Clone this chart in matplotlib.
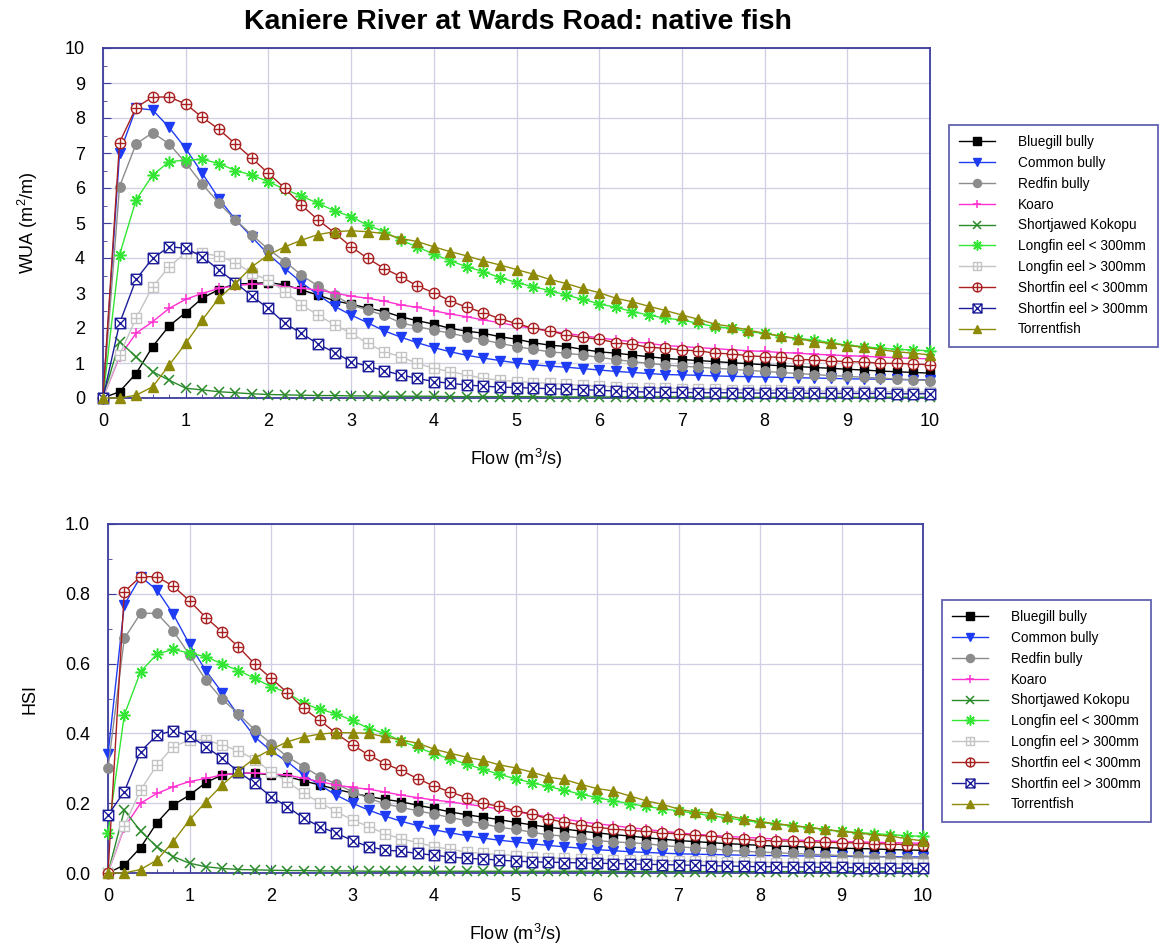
import numpy as np
import matplotlib
matplotlib.use("Agg")
import matplotlib.pyplot as plt
from matplotlib.path import Path
from matplotlib.ticker import MultipleLocator

plt.rcParams["font.family"] = ["Liberation Sans", "DejaVu Sans"]
plt.rcParams["mathtext.fontset"] = "custom"
plt.rcParams["mathtext.rm"] = "Liberation Sans"

# ---------------- data ----------------
flow = [0.0, 0.2, 0.4, 0.6, 0.8, 1.0, 1.2, 1.4, 1.6, 1.8,
        2.0, 2.2, 2.4, 2.6, 2.8, 3.0, 3.2, 3.4, 3.6, 3.8,
        4.0, 4.2, 4.4, 4.6, 4.8, 5.0, 5.2, 5.4, 5.6, 5.8,
        6.0, 6.2, 6.4, 6.6, 6.8, 7.0, 7.2, 7.4, 7.6, 7.8,
        8.0, 8.2, 8.4, 8.6, 8.8, 9.0, 9.2, 9.4, 9.6, 9.8, 10.0]

species = ["Bluegill bully", "Common bully", "Redfin bully", "Koaro",
           "Shortjawed Kokopu", "Longfin eel < 300mm", "Longfin eel > 300mm",
           "Shortfin eel < 300mm", "Shortfin eel > 300mm", "Torrentfish"]

# WUA (m2/m)
wua_bluegill = [0, 0.18, 0.7, 1.47, 2.06, 2.44, 2.85, 3.1, 3.26, 3.27, 3.3, 3.23, 3.09, 2.94, 2.78, 2.68, 2.57, 2.47,
                2.32, 2.21, 2.11, 1.99, 1.91, 1.85, 1.75, 1.68, 1.58, 1.51, 1.47, 1.39, 1.32, 1.28, 1.23, 1.18, 1.13,
                1.1, 1.07, 1.04, 1.01, 0.98, 0.95, 0.92, 0.9, 0.87, 0.85, 0.82, 0.8, 0.77, 0.75, 0.73, 0.71]
wua_common = [0, 6.99, 8.28, 8.23, 7.73, 7.13, 6.42, 5.7, 5.1, 4.6, 4.1, 3.7, 3.3, 2.95, 2.62, 2.37, 2.15, 1.92,
              1.74, 1.58, 1.44, 1.32, 1.22, 1.14, 1.07, 1.0, 0.95, 0.91, 0.88, 0.84, 0.8, 0.76, 0.73, 0.7, 0.67,
              0.66, 0.65, 0.63, 0.62, 0.61, 0.6, 0.59, 0.58, 0.57, 0.56, 0.55, 0.54, 0.54, 0.53, 0.52, 0.52]
wua_redfin = [0, 6.04, 7.26, 7.58, 7.26, 6.72, 6.11, 5.57, 5.09, 4.66, 4.25, 3.9, 3.51, 3.2, 2.94, 2.66, 2.51, 2.36,
              2.15, 2.04, 1.94, 1.85, 1.75, 1.66, 1.56, 1.47, 1.39, 1.32, 1.28, 1.23, 1.16, 1.1, 1.04, 0.99, 0.94,
              0.91, 0.88, 0.85, 0.82, 0.79, 0.76, 0.73, 0.7, 0.67, 0.64, 0.62, 0.59, 0.57, 0.54, 0.52, 0.5]
wua_koaro = [0, 1.18, 1.85, 2.18, 2.56, 2.82, 2.99, 3.13, 3.21, 3.25, 3.25, 3.18, 3.13, 3.09, 3.0, 2.91, 2.85, 2.77,
             2.66, 2.59, 2.49, 2.4, 2.32, 2.23, 2.15, 2.06, 1.99, 1.91, 1.85, 1.78, 1.72, 1.66, 1.61, 1.56, 1.5,
             1.47, 1.44, 1.41, 1.38, 1.35, 1.33, 1.3, 1.28, 1.25, 1.23, 1.21, 1.19, 1.17, 1.15, 1.13, 1.12]
wua_shortjawed = [0, 1.61, 1.18, 0.75, 0.51, 0.28, 0.23, 0.18, 0.15, 0.12, 0.1, 0.09, 0.08, 0.07, 0.07, 0.06, 0.06, 0.05,
                  0.05, 0.05, 0.05, 0.04, 0.04, 0.04, 0.04, 0.04, 0.04, 0.03, 0.03, 0.03, 0.03, 0.03, 0.03, 0.03, 0.03,
                  0.03, 0.03, 0.03, 0.02, 0.02, 0.02, 0.02, 0.02, 0.02, 0.02, 0.02, 0.02, 0.02, 0.02, 0.02, 0.02]
wua_longfin_s = [0, 4.09, 5.66, 6.37, 6.75, 6.8, 6.82, 6.7, 6.5, 6.37, 6.18, 5.96, 5.77, 5.56, 5.35, 5.18, 4.94, 4.75,
                 4.51, 4.32, 4.11, 3.92, 3.75, 3.61, 3.44, 3.3, 3.18, 3.07, 2.94, 2.82, 2.69, 2.59, 2.47, 2.37, 2.28,
                 2.23, 2.13, 2.04, 1.99, 1.89, 1.85, 1.75, 1.7, 1.66, 1.58, 1.51, 1.47, 1.42, 1.39, 1.37, 1.35]
wua_longfin_l = [0, 1.23, 2.28, 3.18, 3.75, 4.15, 4.13, 4.06, 3.87, 3.56, 3.37, 3.04, 2.66, 2.37, 2.09, 1.85, 1.56, 1.32,
                 1.18, 0.99, 0.85, 0.75, 0.66, 0.56, 0.51, 0.47, 0.44, 0.42, 0.39, 0.36, 0.34, 0.32, 0.3, 0.29, 0.28,
                 0.27, 0.26, 0.25, 0.24, 0.23, 0.22, 0.22, 0.21, 0.2, 0.2, 0.19, 0.19, 0.18, 0.18, 0.17, 0.17]
wua_shortfin_s = [0, 7.3, 8.3, 8.6, 8.6, 8.4, 8.02, 7.68, 7.26, 6.85, 6.42, 5.99, 5.51, 5.09, 4.72, 4.32, 3.99, 3.7,
                  3.47, 3.2, 3.01, 2.77, 2.59, 2.44, 2.26, 2.13, 1.99, 1.92, 1.8, 1.73, 1.68, 1.58, 1.53, 1.45, 1.42,
                  1.37, 1.35, 1.28, 1.26, 1.21, 1.18, 1.16, 1.1, 1.09, 1.06, 1.04, 1.03, 0.99, 0.99, 0.97, 0.95]
wua_shortfin_l = [0, 2.13, 3.39, 3.99, 4.32, 4.28, 4.04, 3.66, 3.3, 2.91, 2.56, 2.13, 1.85, 1.54, 1.3, 1.04, 0.91, 0.78,
                  0.66, 0.56, 0.47, 0.42, 0.37, 0.34, 0.31, 0.3, 0.28, 0.27, 0.25, 0.24, 0.22, 0.2, 0.18, 0.17, 0.16,
                  0.16, 0.15, 0.15, 0.15, 0.14, 0.14, 0.14, 0.14, 0.13, 0.13, 0.13, 0.13, 0.13, 0.12, 0.12, 0.12]
wua_torrent = [0, 0, 0.08, 0.32, 0.94, 1.56, 2.23, 2.85, 3.27, 3.75, 4.09, 4.32, 4.51, 4.67, 4.75, 4.78, 4.75, 4.7,
               4.56, 4.47, 4.32, 4.18, 4.06, 3.92, 3.8, 3.67, 3.54, 3.39, 3.27, 3.13, 3.01, 2.85, 2.75, 2.62, 2.5,
               2.37, 2.25, 2.11, 2.04, 1.94, 1.85, 1.77, 1.7, 1.61, 1.56, 1.5, 1.45, 1.38, 1.32, 1.28, 1.23]

# HSI
hsi_bluegill = [0, 0.023, 0.073, 0.144, 0.195, 0.223, 0.259, 0.281, 0.286, 0.286, 0.281, 0.276, 0.264, 0.252, 0.24, 0.229, 0.219, 0.211,
                0.204, 0.194, 0.185, 0.175, 0.167, 0.16, 0.153, 0.145, 0.138, 0.131, 0.126, 0.12, 0.115, 0.11, 0.106, 0.101, 0.097,
                0.093, 0.09, 0.087, 0.084, 0.082, 0.079, 0.077, 0.076, 0.074, 0.073, 0.071, 0.07, 0.069, 0.067, 0.066, 0.065]
hsi_common = [0.34, 0.768, 0.849, 0.811, 0.742, 0.655, 0.58, 0.517, 0.452, 0.39, 0.35, 0.319, 0.281, 0.252, 0.223, 0.2, 0.18, 0.163,
              0.148, 0.136, 0.124, 0.115, 0.107, 0.1, 0.094, 0.089, 0.084, 0.079, 0.075, 0.071, 0.067, 0.064, 0.061, 0.059, 0.057,
              0.055, 0.054, 0.053, 0.052, 0.051, 0.05, 0.05, 0.049, 0.049, 0.048, 0.048, 0.047, 0.047, 0.047, 0.046, 0.046]
hsi_redfin = [0.3, 0.672, 0.744, 0.744, 0.694, 0.625, 0.553, 0.498, 0.456, 0.41, 0.371, 0.333, 0.305, 0.276, 0.255, 0.233, 0.214, 0.198,
              0.188, 0.178, 0.169, 0.159, 0.15, 0.141, 0.131, 0.125, 0.117, 0.109, 0.106, 0.1, 0.093, 0.089, 0.087, 0.084, 0.079,
              0.075, 0.072, 0.07, 0.065, 0.062, 0.06, 0.058, 0.056, 0.054, 0.052, 0.05, 0.049, 0.047, 0.045, 0.044, 0.042]
hsi_koaro = [0, 0.13, 0.2, 0.228, 0.247, 0.262, 0.271, 0.281, 0.286, 0.286, 0.284, 0.281, 0.271, 0.262, 0.252, 0.245, 0.24, 0.232,
             0.223, 0.216, 0.209, 0.204, 0.197, 0.191, 0.183, 0.175, 0.169, 0.16, 0.155, 0.147, 0.141, 0.136, 0.13, 0.125, 0.12,
             0.115, 0.111, 0.108, 0.105, 0.102, 0.1, 0.097, 0.095, 0.093, 0.092, 0.09, 0.089, 0.088, 0.087, 0.086, 0.085]
hsi_shortjawed = [0, 0.18, 0.12, 0.075, 0.047, 0.028, 0.018, 0.013, 0.01, 0.009, 0.008, 0.007, 0.007, 0.006, 0.006, 0.006, 0.005, 0.005,
                  0.005, 0.005, 0.005, 0.005, 0.005, 0.005, 0.005, 0.005, 0.005, 0.005, 0.005, 0.005, 0.005, 0.004, 0.004, 0.004, 0.004,
                  0.004, 0.004, 0.004, 0.004, 0.004, 0.004, 0.004, 0.004, 0.004, 0.004, 0.004, 0.004, 0.004, 0.004, 0.004, 0.004]
hsi_longfin_s = [0.114, 0.453, 0.577, 0.627, 0.641, 0.63, 0.62, 0.599, 0.58, 0.558, 0.534, 0.517, 0.486, 0.469, 0.456, 0.437, 0.414, 0.4,
                 0.378, 0.36, 0.342, 0.327, 0.312, 0.297, 0.283, 0.27, 0.259, 0.248, 0.237, 0.226, 0.216, 0.207, 0.199, 0.191, 0.184,
                 0.178, 0.171, 0.164, 0.158, 0.151, 0.145, 0.14, 0.135, 0.13, 0.124, 0.119, 0.116, 0.113, 0.11, 0.107, 0.105]
hsi_longfin_l = [0, 0.135, 0.238, 0.309, 0.362, 0.381, 0.381, 0.367, 0.35, 0.325, 0.29, 0.262, 0.228, 0.202, 0.176, 0.152, 0.133, 0.112,
                 0.098, 0.087, 0.075, 0.068, 0.06, 0.056, 0.053, 0.05, 0.046, 0.044, 0.042, 0.04, 0.039, 0.038, 0.037, 0.036, 0.035,
                 0.034, 0.033, 0.033, 0.032, 0.031, 0.031, 0.03, 0.03, 0.029, 0.029, 0.028, 0.028, 0.027, 0.027, 0.026, 0.026]
hsi_shortfin_s = [0, 0.806, 0.849, 0.849, 0.822, 0.78, 0.732, 0.691, 0.648, 0.599, 0.558, 0.517, 0.472, 0.437, 0.4, 0.367, 0.338, 0.313,
                  0.294, 0.27, 0.249, 0.232, 0.216, 0.2, 0.191, 0.178, 0.169, 0.155, 0.145, 0.138, 0.131, 0.126, 0.122, 0.119, 0.115,
                  0.112, 0.108, 0.106, 0.1, 0.096, 0.093, 0.092, 0.091, 0.089, 0.088, 0.087, 0.086, 0.084, 0.083, 0.081, 0.08]
hsi_shortfin_l = [0.166, 0.233, 0.348, 0.395, 0.408, 0.393, 0.362, 0.329, 0.29, 0.257, 0.219, 0.19, 0.157, 0.133, 0.114, 0.093, 0.075, 0.066,
                  0.062, 0.056, 0.051, 0.046, 0.042, 0.04, 0.037, 0.034, 0.032, 0.031, 0.03, 0.029, 0.028, 0.027, 0.026, 0.025, 0.024,
                  0.023, 0.022, 0.021, 0.02, 0.019, 0.018, 0.018, 0.017, 0.017, 0.016, 0.016, 0.015, 0.015, 0.014, 0.014, 0.013]
hsi_torrent = [0, 0, 0.01, 0.037, 0.09, 0.152, 0.204, 0.252, 0.293, 0.329, 0.354, 0.376, 0.39, 0.398, 0.402, 0.402, 0.4, 0.39,
               0.381, 0.372, 0.355, 0.343, 0.332, 0.323, 0.31, 0.301, 0.289, 0.275, 0.268, 0.254, 0.242, 0.235, 0.221, 0.207, 0.197,
               0.183, 0.175, 0.172, 0.164, 0.155, 0.147, 0.141, 0.136, 0.131, 0.125, 0.119, 0.115, 0.109, 0.106, 0.098, 0.092]

wua = [wua_bluegill, wua_common, wua_redfin, wua_koaro, wua_shortjawed,
       wua_longfin_s, wua_longfin_l, wua_shortfin_s, wua_shortfin_l, wua_torrent]
hsi = [hsi_bluegill, hsi_common, hsi_redfin, hsi_koaro, hsi_shortjawed,
       hsi_longfin_s, hsi_longfin_l, hsi_shortfin_s, hsi_shortfin_l, hsi_torrent]

# ---------------- marker shapes ----------------
box = Path([(-1, -1), (1, -1), (1, 1), (-1, 1), (-1, -1)], closed=True)
box_plus = Path.make_compound_path(box, Path([(0, -1), (0, 1)]), Path([(-1, 0), (1, 0)]))
box_x = Path.make_compound_path(box, Path([(-1, -1), (1, 1)]), Path([(-1, 1), (1, -1)]))
circ_plus = Path.make_compound_path(Path.unit_circle(), Path([(0, -1), (0, 1)]), Path([(-1, 0), (1, 0)]))

styles = [
    dict(color="black", marker="s", mfc="black", ms=6.3),
    dict(color="#1f3cf5", marker="v", mfc="#1f3cf5", ms=7),
    dict(color="#8c8c8c", marker="o", mfc="#8c8c8c", ms=6.8),
    dict(color="#ff2fd0", marker="+", ms=7.5, mew=1.1),
    dict(color="#2a8a2a", marker="x", ms=6.5, mew=1.1),
    dict(color="#33e633", marker=(8, 2, 0), ms=8.5, mew=1.1),
    dict(color="#c4c4c4", marker=box_plus, mfc="white", ms=7.5, mew=1.0),
    dict(color="#a82020", marker=circ_plus, mfc="white", ms=7.5, mew=1.0),
    dict(color="#1c1c99", marker=box_x, mfc="white", ms=7.5, mew=1.0),
    dict(color="#8e8a08", marker="^", mfc="#8e8a08", ms=7),
]

frame = "#3c3c9c"
grid_c = "#cfcfe4"
tick_fs = 13

fig = plt.figure(figsize=(11.65, 9.48), dpi=100)
ax1 = fig.add_axes([103 / 1165, 1 - 398 / 948, (930 - 103) / 1165, (398 - 48) / 948])
ax2 = fig.add_axes([108 / 1165, 1 - 873 / 948, (923 - 108) / 1165, (873 - 524) / 948])


def draw(ax, data, ymax, ymajor, yminor, yfmt, ylabel, ylpad):
    for name, vals, st in zip(species, data, styles):
        ax.plot(flow, vals, label=name, lw=1.0, mec=st["color"], clip_on=False, zorder=3, **st)
    ax.set_xlim(0, 10)
    ax.set_ylim(0, ymax)
    ax.xaxis.set_major_locator(MultipleLocator(1))
    ax.xaxis.set_minor_locator(MultipleLocator(0.2))
    ax.yaxis.set_major_locator(MultipleLocator(ymajor))
    ax.yaxis.set_minor_locator(MultipleLocator(yminor))
    ax.yaxis.set_major_formatter(yfmt)
    ax.grid(True, which="major", color=grid_c, lw=0.9, zorder=0)
    for s in ax.spines.values():
        s.set_color(frame)
        s.set_linewidth(1.3)
    ax.tick_params(which="both", direction="in", colors=frame, labelcolor="black",
                   labelsize=tick_fs, top=False, right=False)
    ax.tick_params(which="major", length=6)
    ax.tick_params(which="minor", length=3)
    ax.tick_params(axis="x", which="major", pad=11)
    ax.tick_params(axis="y", which="major", pad=13)
    ax.set_xlabel("Flow (m$^3$/s)", fontsize=tick_fs, labelpad=12)
    ax.set_ylabel(ylabel, fontsize=tick_fs, labelpad=ylpad)
    ax.set_axisbelow(True)


draw(ax1, wua, 10, 1, 0.5, "{x:.0f}", "WUA (m$^2$/m)", 18)
draw(ax2, hsi, 1.0, 0.2, 0.1, "{x:.1f}", "HSI", 19)

fig.text(0.445, 1 - 22 / 948, "Kaniere River at Wards Road: native fish",
         ha="center", va="center", fontsize=20.5, fontweight="bold")

for ax, (lx, ly) in [(ax1, (949, 125)), (ax2, (942, 600))]:
    h, l = ax.get_legend_handles_labels()
    leg = fig.legend(h, l, loc="upper left", bbox_to_anchor=(lx / 1165, 1 - ly / 948),
                     fontsize=9.8, frameon=True, fancybox=False, edgecolor=frame,
                     handlelength=2.6, handletextpad=1.7, labelspacing=0.5,
                     borderpad=0.75, borderaxespad=0, markerscale=0.85)
    leg.get_frame().set_linewidth(1.3)

fig.savefig("out.png", dpi=100, facecolor="white")
